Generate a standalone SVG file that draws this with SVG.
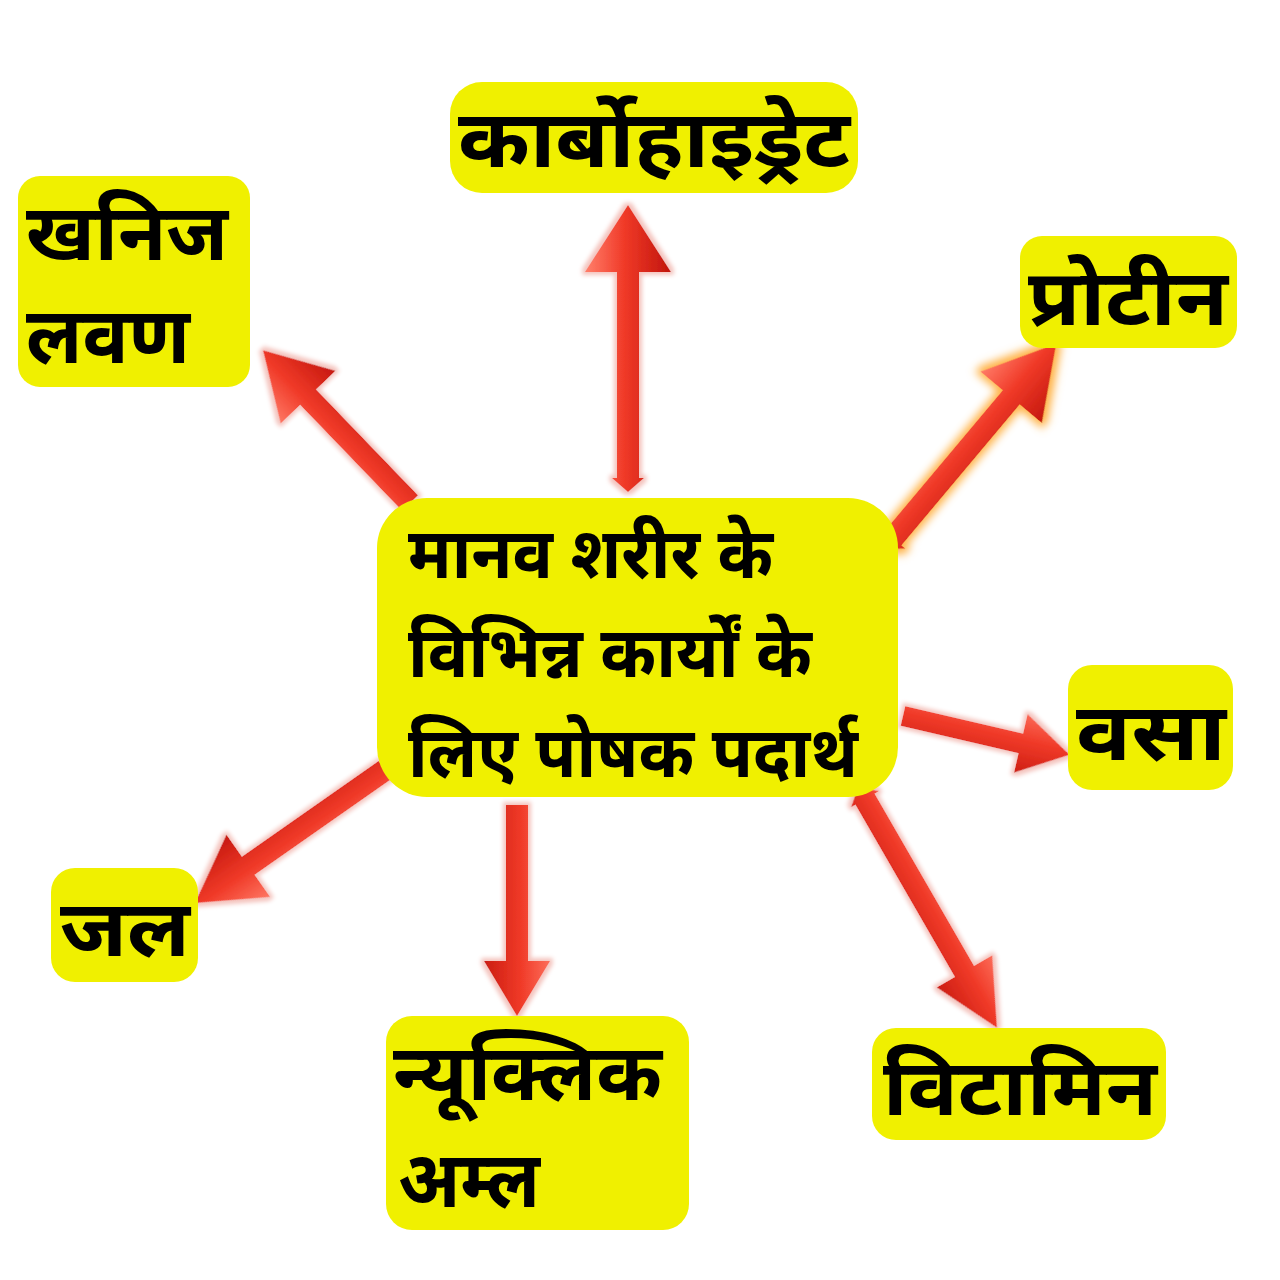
<svg xmlns="http://www.w3.org/2000/svg" width="1280" height="1280" viewBox="0 0 1280 1280">
<defs>
<linearGradient id="ag" gradientUnits="userSpaceOnUse" x1="0" y1="-40" x2="0" y2="40">
<stop offset="0" stop-color="#ff7a66"/>
<stop offset="0.45" stop-color="#f03a28"/>
<stop offset="1" stop-color="#c4170e"/>
</linearGradient>
<filter id="halo" x="-20%" y="-40%" width="140%" height="180%">
<feMorphology in="SourceAlpha" operator="dilate" radius="3" result="d"/>
<feGaussianBlur in="d" stdDeviation="2" result="b"/>
<feFlood flood-color="#f4c4be"/>
<feComposite operator="in" in2="b" result="h"/>
<feMerge><feMergeNode in="h"/><feMergeNode in="SourceGraphic"/></feMerge>
</filter>
<filter id="haloO" x="-20%" y="-40%" width="140%" height="180%">
<feMorphology in="SourceAlpha" operator="dilate" radius="4" result="d"/>
<feGaussianBlur in="d" stdDeviation="4" result="b"/>
<feFlood flood-color="#ffb347"/>
<feComposite operator="in" in2="b" result="h"/>
<feMerge><feMergeNode in="h"/><feMergeNode in="SourceGraphic"/></feMerge>
</filter>
</defs>
<style>
.box{fill:#f0f000}
.t{font-family:"Noto Sans Devanagari","Noto Sans","Lohit Devanagari","Mangal",sans-serif;font-weight:bold;fill:#000}
.arr{fill:url(#ag);filter:url(#halo)}
</style>
<rect width="1280" height="1280" fill="#fff"/>

<g id="connectors">
<g transform="translate(628,492) rotate(-90)">
<path class="arr" d="M0,0 L14,-16 L14,-11 L220,-11 L220,-43 L287,0 L220,43 L220,11 L14,11 L14,16 Z"/>
</g>
<g transform="translate(410,503) rotate(-133.9)">
<path class="arr" d="M0,-11 L147,-11 L147,-38 L212,0 L147,38 L147,11 L0,11 Z"/>
</g>
<g transform="translate(884,549) rotate(-50)">
<path class="arr" style="filter:url(#haloO)" d="M0,0 L14,-16 L14,-11 L198,-11 L198,-40 L268,0 L198,40 L198,11 L14,11 L14,16 Z"/>
</g>
<g transform="translate(903,716) rotate(13.1)">
<path class="arr" d="M0,-10 L121,-10 L121,-30 L171,0 L121,30 L121,10 L0,10 Z"/>
</g>
<g transform="translate(385,770) rotate(145)">
<path class="arr" d="M0,-11 L167,-11 L167,-38 L232,0 L167,38 L167,11 L0,11 Z"/>
</g>
<g transform="translate(517,805) rotate(90)">
<path class="arr" d="M0,-11 L156,-11 L156,-33 L211,0 L156,33 L156,11 L0,11 Z"/>
</g>
<g transform="translate(858,787) rotate(60)">
<path class="arr" d="M0,0 L14,-16 L14,-11 L213,-11 L213,-32 L278,0 L213,32 L213,11 L14,11 L14,16 Z"/>
</g>
</g>

<g id="center">
<rect class="box" x="377" y="498" width="521" height="299" rx="50"/>
<text class="t" x="408" y="578" font-size="70" textLength="365" lengthAdjust="spacingAndGlyphs">मानव शरीर के</text>
<text class="t" x="408" y="677" font-size="70" textLength="404" lengthAdjust="spacingAndGlyphs">विभिन्न कार्यों के</text>
<text class="t" x="408" y="777" font-size="70" textLength="450" lengthAdjust="spacingAndGlyphs">लिए पोषक पदार्थ</text>
</g>
<g id="carbohydrate">
<rect class="box" x="450" y="82" width="408" height="111" rx="32"/>
<text class="t" x="458" y="167" font-size="80" textLength="392" lengthAdjust="spacingAndGlyphs">कार्बोहाइड्रेट</text>
</g>
<g id="khanij">
<rect class="box" x="18" y="176" width="232" height="211" rx="22"/>
<text class="t" x="26" y="260" font-size="78" textLength="202" lengthAdjust="spacingAndGlyphs">खनिज</text>
<text class="t" x="26" y="363" font-size="78" textLength="164" lengthAdjust="spacingAndGlyphs">लवण</text>
</g>
<g id="protein">
<rect class="box" x="1020" y="236" width="217" height="112" rx="22"/>
<text class="t" x="1028" y="325" font-size="78" textLength="200" lengthAdjust="spacingAndGlyphs">प्रोटीन</text>
</g>
<g id="vasa">
<rect class="box" x="1068" y="665" width="165" height="125" rx="24"/>
<text class="t" x="1076" y="760" font-size="80" textLength="150" lengthAdjust="spacingAndGlyphs">वसा</text>
</g>
<g id="jal">
<rect class="box" x="51" y="868" width="147" height="114" rx="24"/>
<text class="t" x="60" y="956" font-size="78" textLength="130" lengthAdjust="spacingAndGlyphs">जल</text>
</g>
<g id="nucleic">
<rect class="box" x="386" y="1016" width="303" height="214" rx="26"/>
<text class="t" x="393" y="1100" font-size="78" textLength="269" lengthAdjust="spacingAndGlyphs">न्यूक्लिक</text>
<text class="t" x="398" y="1207" font-size="78" textLength="142" lengthAdjust="spacingAndGlyphs">अम्ल</text>
</g>
<g id="vitamin">
<rect class="box" x="872" y="1028" width="294" height="112" rx="24"/>
<text class="t" x="883" y="1115" font-size="78" textLength="274" lengthAdjust="spacingAndGlyphs">विटामिन</text>
</g>
</svg>
